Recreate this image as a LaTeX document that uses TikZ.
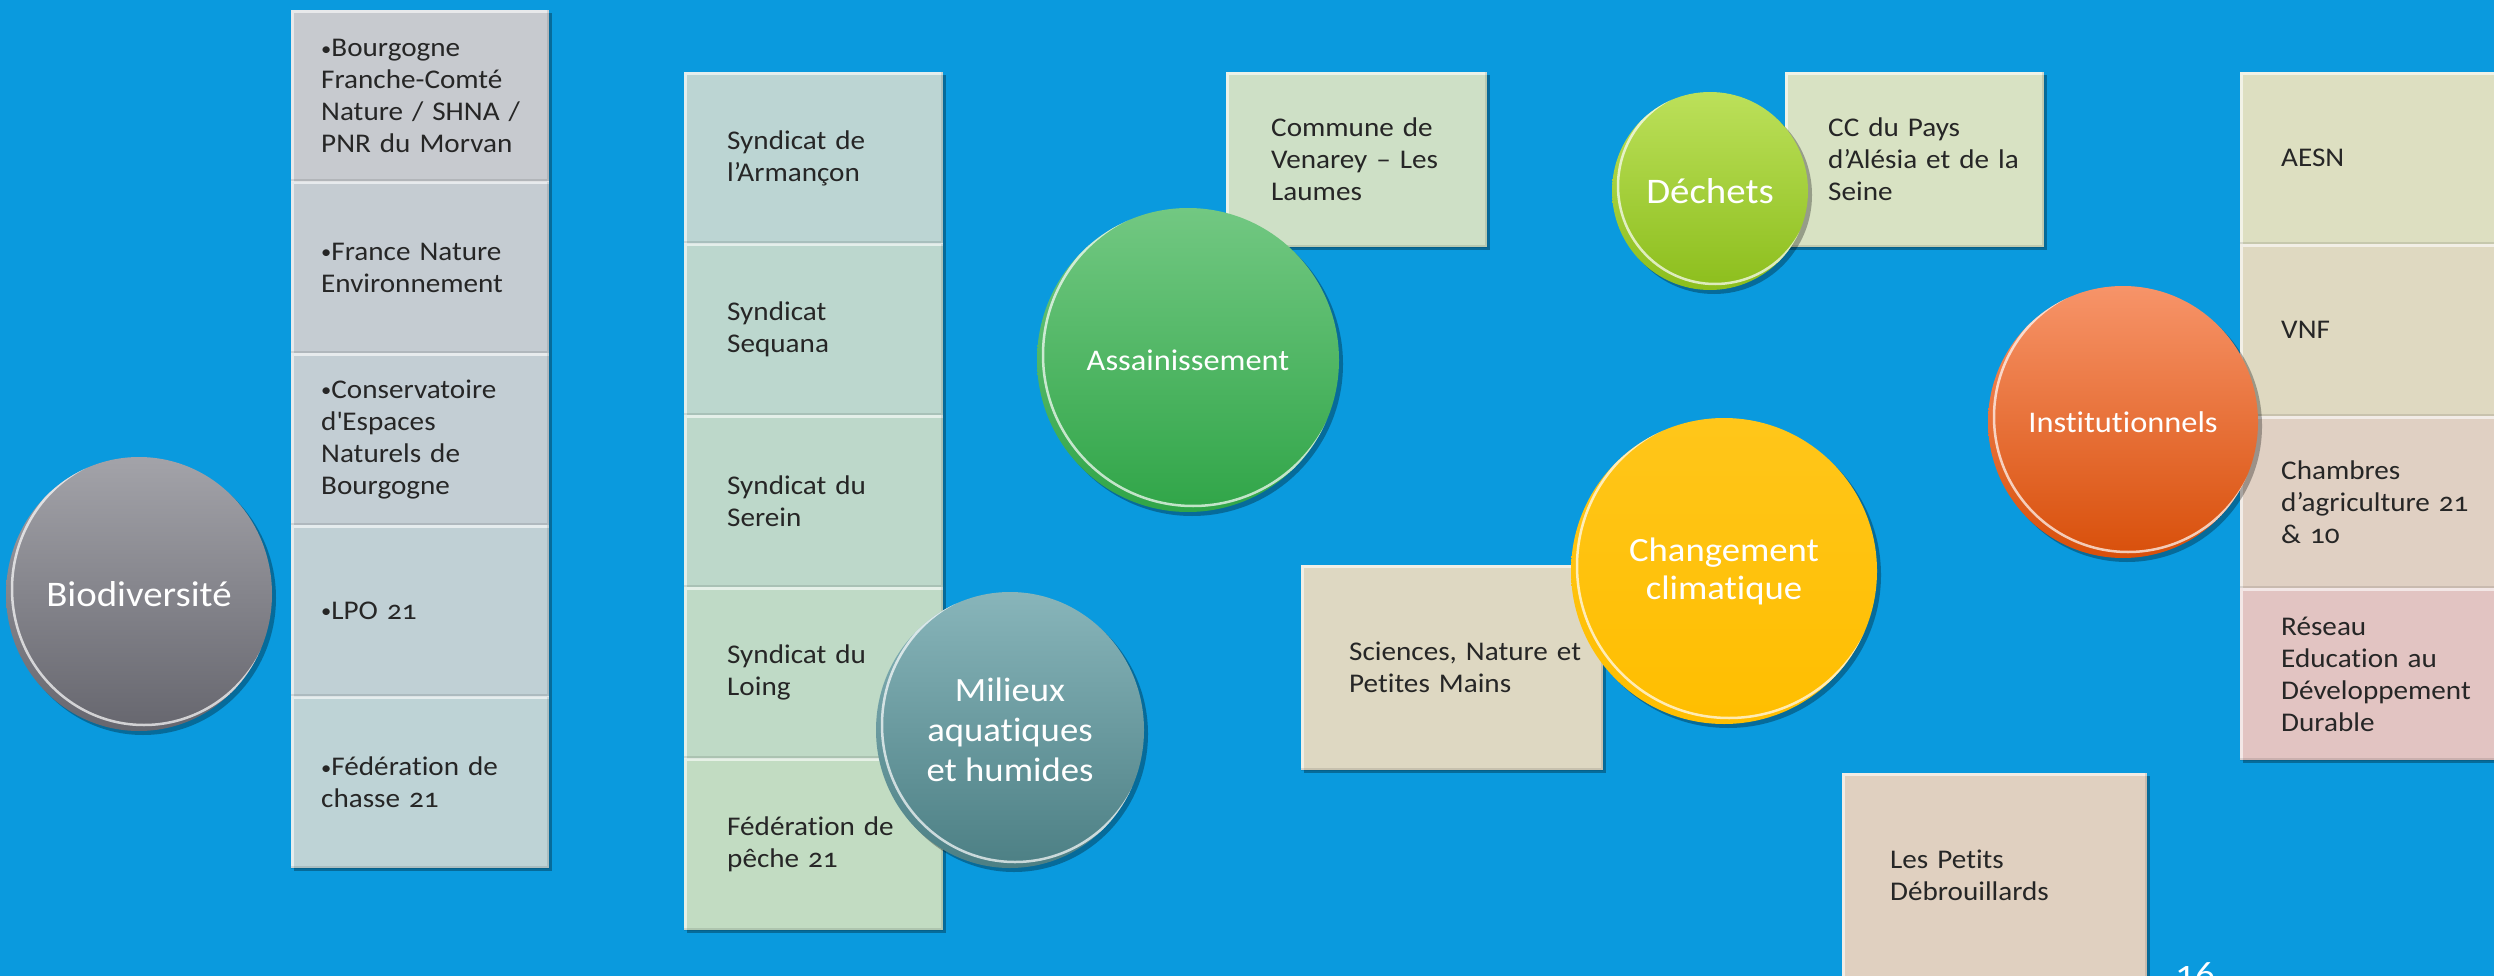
\documentclass[tikz,border=0pt]{standalone}
\usepackage{fontspec}
\setmainfont{Carlito}[Numbers=OldStyle,FakeStretch=1.08,Ligatures={TeX,NoCommon}]
\usetikzlibrary{shapes.geometric,shadows}
\hyphenpenalty=10000
\exhyphenpenalty=10000
\definecolor{bg}{HTML}{0A9ADE}
\definecolor{txt}{HTML}{262626}
\definecolor{bioA}{HTML}{C7CACF}
\definecolor{bioB}{HTML}{C5CCD2}
\definecolor{bioC}{HTML}{C3CED4}
\definecolor{bioD}{HTML}{C0D0D5}
\definecolor{bioE}{HTML}{BED3D6}
\definecolor{synA}{HTML}{BCD5D3}
\definecolor{synB}{HTML}{BCD7CE}
\definecolor{synC}{HTML}{BDD8CA}
\definecolor{synD}{HTML}{BFDAC6}
\definecolor{synE}{HTML}{C2DCC2}
\definecolor{comC}{HTML}{CEE0C6}
\definecolor{ccC}{HTML}{D8E2C3}
\definecolor{sciC}{HTML}{DED8C2}
\definecolor{petC}{HTML}{E0D0C0}
\definecolor{insA}{HTML}{DDDFC1}
\definecolor{insB}{HTML}{DFD9C1}
\definecolor{insC}{HTML}{E0D0C3}
\definecolor{insD}{HTML}{E2C4C2}
\definecolor{bioTop}{HTML}{A3A3A9}
\definecolor{bioBot}{HTML}{66666E}
\definecolor{assTop}{HTML}{72C882}
\definecolor{assBot}{HTML}{30A548}
\definecolor{milTop}{HTML}{88B5BA}
\definecolor{milBot}{HTML}{4C7F84}
\definecolor{decTop}{HTML}{BCE05A}
\definecolor{decBot}{HTML}{8CBE1C}
\definecolor{chaTop}{HTML}{FFC61A}
\definecolor{chaBot}{HTML}{FFBE00}
\definecolor{insTop}{HTML}{F79469}
\definecolor{insBot}{HTML}{D84F0A}
\newcommand\bubblerim[2]{\draw[white,opacity=.7,line width=2.5pt] ([xshift=5pt,yshift=5pt]path picture bounding box.center) ellipse [x radius=#1pt, y radius=#2pt];}
\newcommand\bul{{\fontsize{19}{32}\selectfont\raisebox{1.5pt}{•}}}
\tikzset{
  boxshadow/.style={drop shadow={shadow xshift=3pt,shadow yshift=-3pt,opacity=.3,fill=black}},
  cellbox/.style={rectangle, anchor=north west, align=left, text=txt, inner ysep=0pt,
    font=\fontsize{27}{32}\selectfont, boxshadow,
    path picture={
      \draw[white,opacity=.6,line width=5pt] (path picture bounding box.south west) -- (path picture bounding box.north west) -- (path picture bounding box.north east);
      \draw[black,opacity=.1,line width=5pt] (path picture bounding box.north east) -- (path picture bounding box.south east) -- (path picture bounding box.south west);}},
  biocell/.style={cellbox, minimum width=258pt, minimum height=171.6pt, inner xsep=30pt, text width=198pt},
  syncell/.style={cellbox, minimum width=259pt, minimum height=171.6pt, inner xsep=43pt, text width=173pt},
  inscell/.style={cellbox, minimum width=259pt, minimum height=172pt, inner xsep=41pt, text width=177pt},
  bubble/.style={ellipse, inner sep=0pt, text=white, align=center,
    drop shadow={shadow xshift=4pt,shadow yshift=-4pt,opacity=.3,fill=black}},
}
\begin{document}
\begin{tikzpicture}[x=1pt,y=-1pt]
\useasboundingbox (0,0) rectangle (2494,976);
\clip (0,0) rectangle (2494,976);
\fill[bg] (0,0) rectangle (2494,976);

% Biodiversite column
\node[biocell, fill=bioA] (bio1) at (291,10) {\bul Bourgogne\\Franche-Comté\\Nature~/~SHNA~/\\PNR~du~Morvan};
\node[biocell, fill=bioB] (bio2) at (291,181.6) {\bul France~Nature\\Environnement};
\node[biocell, fill=bioC] (bio3) at (291,353.2) {\bul Conservatoire\\d\textquotesingle Espaces\\Naturels~de\\Bourgogne};
\node[biocell, fill=bioD] (bio4) at (291,524.8) {\bul LPO~21};
\node[biocell, fill=bioE] (bio5) at (291,696.4) {\bul Fédération~de\\chasse~21};

% Syndicats column
\node[syncell, fill=synA] (syn1) at (684,72) {Syndicat~de\\l’Armançon};
\node[syncell, fill=synB] (syn2) at (684,243.6) {Syndicat\\Sequana};
\node[syncell, fill=synC] (syn3) at (684,415.2) {Syndicat~du\\Serein};
\node[syncell, fill=synD] (syn4) at (684,586.8) {Syndicat~du\\Loing};
\node[syncell, fill=synE] (syn5) at (684,758.4) {Fédération~de\\pêche~21};

% single boxes
\node[cellbox, fill=comC, minimum width=261pt, minimum height=175pt, inner xsep=45pt, text width=171pt] (com) at (1226,72) {Commune~de\\Venarey~–~Les\\Laumes};
\node[cellbox, fill=ccC, minimum width=259pt, minimum height=175pt, inner xsep=43pt, text width=173pt] (cc) at (1785,72) {CC~du~Pays\\d’Alésia~et~de~la\\Seine};
\node[cellbox, fill=sciC, minimum width=302pt, minimum height=205pt, inner xsep=48pt, text width=206pt] (sci) at (1301,565) {Sciences,~Nature~et\\Petites~Mains};
\node[cellbox, fill=petC, minimum width=305pt, minimum height=205pt, inner xsep=48pt, text width=209pt] (pet) at (1842,773) {Les~Petits\\Débrouillards};

% Institutionnels column
\node[inscell, fill=insA] (ins1) at (2240,72) {AESN};
\node[inscell, fill=insB] (ins2) at (2240,244) {VNF};
\node[inscell, fill=insC] (ins3) at (2240,416) {Chambres\\d’agriculture~21\\\&~10};
\node[inscell, fill=insD] (ins4) at (2240,588) {Réseau\\Education~au\\Développement\\Durable};

% bubbles
\node[bubble, minimum width=266pt, minimum height=274pt, top color=bioTop, bottom color=bioBot,
  font=\fontsize{36}{40}\selectfont, path picture={\bubblerim{132}{136}}] (biodiv) at (139,594) {Biodiversité};
\node[bubble, minimum width=268pt, minimum height=276pt, top color=milTop, bottom color=milBot,
  font=\fontsize{34}{40}\selectfont, path picture={\bubblerim{133}{137}}] (milieux) at (1010,730) {Milieux\\aquatiques\\et~humides};
\node[bubble, minimum width=302pt, minimum height=304pt, top color=assTop, bottom color=assBot,
  font=\fontsize{30}{36}\selectfont, path picture={\bubblerim{150}{151}}] (assain) at (1188,360) {Assainissement};
\node[bubble, minimum width=196pt, minimum height=198pt, top color=decTop, bottom color=decBot,
  font=\fontsize{36}{40}\selectfont, path picture={\bubblerim{97}{98}}] (dechets) at (1710,191) {Déchets};
\node[bubble, minimum width=306pt, minimum height=306pt, top color=chaTop, bottom color=chaBot,
  font=\fontsize{34}{38}\selectfont, path picture={\bubblerim{152}{152}}] (climat) at (1724,571) {Changement\\climatique};
\node[bubble, minimum width=270pt, minimum height=272pt, top color=insTop, bottom color=insBot,
  font=\fontsize{30}{36}\selectfont, path picture={\bubblerim{134}{135}}] (instit) at (2123,422) {Institutionnels};

% page number
\node[text=white, inner sep=0pt, anchor=north, font=\fontsize{36}{36}\selectfont] (pnum) at (2195,962) {16};
\end{tikzpicture}
\end{document}
